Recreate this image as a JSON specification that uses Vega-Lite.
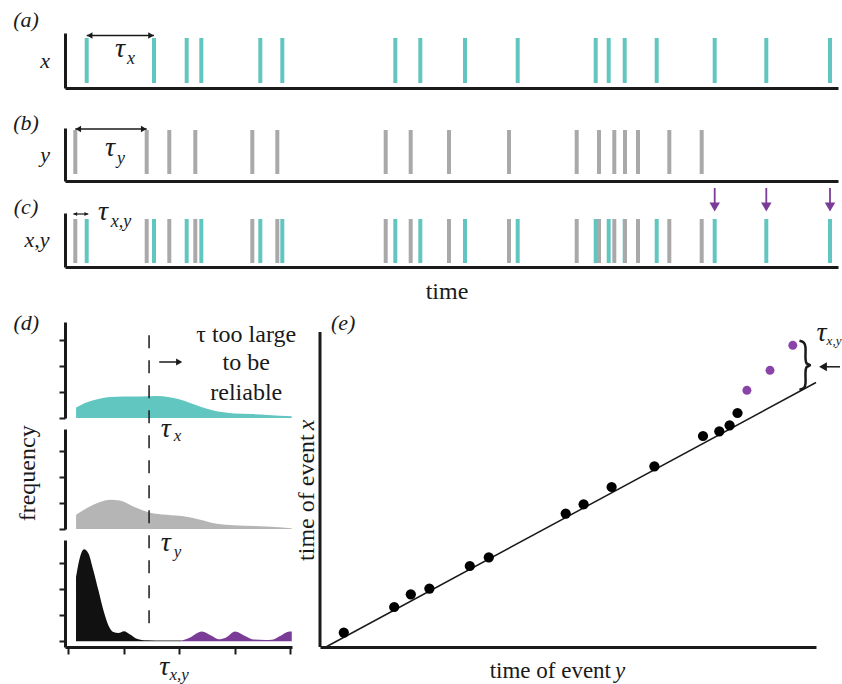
{
  "$schema": "https://vega.github.io/schema/vega-lite/v6.json",
  "background": "white",
  "autosize": {"type": "pad"},
  "padding": {"left": 13, "top": 9, "right": 0, "bottom": 0},
  "config": {
    "font": "Liberation Serif",
    "view": {"stroke": null},
    "axis": {"grid": false, "labels": false, "ticks": false, "domainWidth": 3, "domainColor": "#1a1a1a", "tickColor": "#1a1a1a", "tickWidth": 2},
    "text": {"font": "Liberation Serif", "color": "#1a1a1a"}
  },
  "datasets": {
    "events": [
      {"series": "x", "t": 21.7}, {"series": "x", "t": 89}, {"series": "x", "t": 121.7}, {"series": "x", "t": 136.3},
      {"series": "x", "t": 195.3}, {"series": "x", "t": 217.3}, {"series": "x", "t": 330.3}, {"series": "x", "t": 355.3},
      {"series": "x", "t": 400}, {"series": "x", "t": 452.7}, {"series": "x", "t": 530.7}, {"series": "x", "t": 543.7},
      {"series": "x", "t": 559.7}, {"series": "x", "t": 591.7}, {"series": "x", "t": 649.7}, {"series": "x", "t": 701.3},
      {"series": "x", "t": 765},
      {"series": "y", "t": 10.3}, {"series": "y", "t": 81.7}, {"series": "y", "t": 104.3}, {"series": "y", "t": 130.3},
      {"series": "y", "t": 187.3}, {"series": "y", "t": 212.3}, {"series": "y", "t": 320.7}, {"series": "y", "t": 345.7},
      {"series": "y", "t": 384}, {"series": "y", "t": 444}, {"series": "y", "t": 511.7}, {"series": "y", "t": 534},
      {"series": "y", "t": 549.3}, {"series": "y", "t": 560}, {"series": "y", "t": 573}, {"series": "y", "t": 604.3},
      {"series": "y", "t": 636.7}
    ],
    "densityX": [
      {"v": 0.14, "f": 0.40}, {"v": 0.30, "f": 0.58}, {"v": 0.45, "f": 0.68}, {"v": 0.60, "f": 0.76},
      {"v": 0.75, "f": 0.81}, {"v": 1.0, "f": 0.83}, {"v": 1.3, "f": 0.83}, {"v": 1.6, "f": 0.85},
      {"v": 1.8, "f": 0.81}, {"v": 2.0, "f": 0.72}, {"v": 2.2, "f": 0.58}, {"v": 2.4, "f": 0.42},
      {"v": 2.6, "f": 0.30}, {"v": 2.8, "f": 0.22}, {"v": 3.0, "f": 0.17}, {"v": 3.3, "f": 0.15},
      {"v": 3.6, "f": 0.12}, {"v": 4.03, "f": 0.07}
    ],
    "densityY": [
      {"v": 0.14, "f": 0.55}, {"v": 0.45, "f": 0.93}, {"v": 0.75, "f": 1.13}, {"v": 0.93, "f": 1.10},
      {"v": 1.17, "f": 0.87}, {"v": 1.46, "f": 0.64}, {"v": 1.78, "f": 0.55}, {"v": 2.08, "f": 0.49},
      {"v": 2.38, "f": 0.36}, {"v": 2.68, "f": 0.20}, {"v": 2.98, "f": 0.14}, {"v": 3.58, "f": 0.10},
      {"v": 4.03, "f": 0.03}
    ],
    "densityXY": [
      {"part": "reliable", "v": 0.139, "f": 2.48}, {"part": "reliable", "v": 0.211, "f": 3.25},
      {"part": "reliable", "v": 0.283, "f": 3.54}, {"part": "reliable", "v": 0.361, "f": 3.39},
      {"part": "reliable", "v": 0.451, "f": 2.74}, {"part": "reliable", "v": 0.542, "f": 1.97},
      {"part": "reliable", "v": 0.632, "f": 1.20}, {"part": "reliable", "v": 0.722, "f": 0.62},
      {"part": "reliable", "v": 0.812, "f": 0.36}, {"part": "reliable", "v": 0.903, "f": 0.32},
      {"part": "reliable", "v": 1.005, "f": 0.39}, {"part": "reliable", "v": 1.114, "f": 0.26},
      {"part": "reliable", "v": 1.235, "f": 0.10}, {"part": "reliable", "v": 1.415, "f": 0.04},
      {"part": "reliable", "v": 1.745, "f": 0.03}, {"part": "reliable", "v": 2.047, "f": 0.03},
      {"part": "unreliable", "v": 2.047, "f": 0.03}, {"part": "unreliable", "v": 2.197, "f": 0.15},
      {"part": "unreliable", "v": 2.408, "f": 0.38}, {"part": "unreliable", "v": 2.594, "f": 0.20},
      {"part": "unreliable", "v": 2.708, "f": 0.08}, {"part": "unreliable", "v": 2.847, "f": 0.15},
      {"part": "unreliable", "v": 3.009, "f": 0.38}, {"part": "unreliable", "v": 3.19, "f": 0.20},
      {"part": "unreliable", "v": 3.334, "f": 0.07}, {"part": "unreliable", "v": 3.551, "f": 0.05},
      {"part": "unreliable", "v": 3.677, "f": 0.06}, {"part": "unreliable", "v": 3.822, "f": 0.20},
      {"part": "unreliable", "v": 3.966, "f": 0.37}, {"part": "unreliable", "v": 4.032, "f": 0.38}
    ],
    "pairs": [
      {"group": "matched", "timeY": 23.8, "timeX": 14.4}, {"group": "matched", "timeY": 74.2, "timeX": 40},
      {"group": "matched", "timeY": 90.8, "timeX": 52.7}, {"group": "matched", "timeY": 109.4, "timeX": 58.4},
      {"group": "matched", "timeY": 149.8, "timeX": 81}, {"group": "matched", "timeY": 168.8, "timeX": 89.7},
      {"group": "matched", "timeY": 245.7, "timeX": 133.4}, {"group": "matched", "timeY": 263.6, "timeX": 142.7},
      {"group": "matched", "timeY": 291.6, "timeX": 160}, {"group": "matched", "timeY": 334.4, "timeX": 180.7},
      {"group": "matched", "timeY": 383, "timeX": 211}, {"group": "matched", "timeY": 399.3, "timeX": 215.7},
      {"group": "matched", "timeY": 409.6, "timeX": 221.7}, {"group": "matched", "timeY": 417.5, "timeX": 234},
      {"group": "late", "timeY": 426.9, "timeX": 256.7}, {"group": "late", "timeY": 450, "timeX": 276.7},
      {"group": "late", "timeY": 472.8, "timeX": 301.7}
    ]
  },
  "bounds": "flush",
  "spacing": 40,
  "vconcat": [
    {
      "width": 773, "height": 55,
      "layer": [
        {"data": {"name": "events"}, "transform": [{"filter": "datum.series === 'x'"}],
         "mark": {"type": "rule", "strokeWidth": 4, "color": "#62c6c0"},
         "encoding": {"x": {"field": "t", "type": "quantitative", "title": null, "scale": {"domain": [0, 773], "nice": false}},
                      "y": {"datum": 5, "type": "quantitative", "title": null, "scale": {"domain": [0, 55], "nice": false}},
                      "y2": {"datum": 50}}},
        {"data": {"values": [{"t1": 21.7, "t2": 89, "y": 52.5}]},
         "mark": {"type": "rule", "strokeWidth": 1.5, "color": "#1a1a1a"},
         "encoding": {"x": {"field": "t1", "type": "quantitative", "title": null}, "x2": {"field": "t2"},
                      "y": {"field": "y", "type": "quantitative", "title": null}}},
        {"data": {"values": [{"t1": 21.7, "y": 52.5}]},
         "mark": {"type": "point", "shape": "triangle-left", "filled": true, "opacity": 1, "size": 40, "color": "#1a1a1a", "xOffset": 3},
         "encoding": {"x": {"field": "t1", "type": "quantitative", "title": null}, "y": {"field": "y", "type": "quantitative", "title": null}}},
        {"data": {"values": [{"t2": 89, "y": 52.5}]},
         "mark": {"type": "point", "shape": "triangle-right", "filled": true, "opacity": 1, "size": 40, "color": "#1a1a1a", "xOffset": -3},
         "encoding": {"x": {"field": "t2", "type": "quantitative", "title": null}, "y": {"field": "y", "type": "quantitative", "title": null}}},
        {"data": {"values": [{"t": -39, "y": 68, "label": "(a)"}, {"t": -20, "y": 27, "label": "x"}]},
         "mark": {"type": "text", "font": "Liberation Serif", "fontSize": 22, "fontStyle": "italic"},
         "encoding": {"x": {"field": "t", "type": "quantitative", "title": null}, "y": {"field": "y", "type": "quantitative", "title": null}, "text": {"field": "label"}}},
        {"data": {"values": [{"t": 55, "y": 39, "label": "τ"}]},
         "mark": {"type": "text", "font": "Liberation Serif", "fontSize": 28, "fontStyle": "italic"},
         "encoding": {"x": {"field": "t", "type": "quantitative", "title": null}, "y": {"field": "y", "type": "quantitative", "title": null}, "text": {"field": "label"}}},
        {"data": {"values": [{"t": 66, "y": 29, "label": "x"}]},
         "mark": {"type": "text", "font": "Liberation Serif", "fontSize": 18, "fontStyle": "italic"},
         "encoding": {"x": {"field": "t", "type": "quantitative", "title": null}, "y": {"field": "y", "type": "quantitative", "title": null}, "text": {"field": "label"}}}
      ]
    },
    {
      "bounds": "flush",
      "spacing": 32,
      "vconcat": [
        {
          "width": 773, "height": 53,
          "layer": [
            {"data": {"name": "events"}, "transform": [{"filter": "datum.series === 'y'"}],
             "mark": {"type": "rule", "strokeWidth": 4, "color": "#a9a9a9"},
             "encoding": {"x": {"field": "t", "type": "quantitative", "title": null, "scale": {"domain": [0, 773], "nice": false}},
                          "y": {"datum": 7, "type": "quantitative", "title": null, "scale": {"domain": [0, 53], "nice": false}},
                          "y2": {"datum": 51}}},
            {"data": {"values": [{"t1": 10.3, "t2": 81.7, "y": 52}]},
             "mark": {"type": "rule", "strokeWidth": 1.5, "color": "#1a1a1a"},
             "encoding": {"x": {"field": "t1", "type": "quantitative", "title": null}, "x2": {"field": "t2"},
                          "y": {"field": "y", "type": "quantitative", "title": null}}},
            {"data": {"values": [{"t1": 10.3, "y": 52}]},
             "mark": {"type": "point", "shape": "triangle-left", "filled": true, "opacity": 1, "size": 40, "color": "#1a1a1a", "xOffset": 3},
             "encoding": {"x": {"field": "t1", "type": "quantitative", "title": null}, "y": {"field": "y", "type": "quantitative", "title": null}}},
            {"data": {"values": [{"t2": 81.7, "y": 52}]},
             "mark": {"type": "point", "shape": "triangle-right", "filled": true, "opacity": 1, "size": 40, "color": "#1a1a1a", "xOffset": -3},
             "encoding": {"x": {"field": "t2", "type": "quantitative", "title": null}, "y": {"field": "y", "type": "quantitative", "title": null}}},
            {"data": {"values": [{"t": -39, "y": 58, "label": "(b)"}, {"t": -20, "y": 26, "label": "y"}]},
             "mark": {"type": "text", "font": "Liberation Serif", "fontSize": 22, "fontStyle": "italic"},
             "encoding": {"x": {"field": "t", "type": "quantitative", "title": null}, "y": {"field": "y", "type": "quantitative", "title": null}, "text": {"field": "label"}}},
            {"data": {"values": [{"t": 45, "y": 33, "label": "τ"}]},
             "mark": {"type": "text", "font": "Liberation Serif", "fontSize": 28, "fontStyle": "italic"},
             "encoding": {"x": {"field": "t", "type": "quantitative", "title": null}, "y": {"field": "y", "type": "quantitative", "title": null}, "text": {"field": "label"}}},
            {"data": {"values": [{"t": 56, "y": 22, "label": "y"}]},
             "mark": {"type": "text", "font": "Liberation Serif", "fontSize": 18, "fontStyle": "italic"},
             "encoding": {"x": {"field": "t", "type": "quantitative", "title": null}, "y": {"field": "y", "type": "quantitative", "title": null}, "text": {"field": "label"}}}
          ]
        },
        {
          "bounds": "flush",
          "spacing": 55,
          "vconcat": [
            {
              "width": 773, "height": 54,
              "layer": [
                {"data": {"name": "events"},
                 "mark": {"type": "rule", "strokeWidth": 4},
                 "encoding": {"x": {"field": "t", "type": "quantitative", "title": null, "scale": {"domain": [0, 773], "nice": false}},
                              "y": {"datum": 4, "type": "quantitative", "title": null, "scale": {"domain": [0, 54], "nice": false}},
                              "y2": {"datum": 48},
                              "color": {"field": "series", "type": "nominal", "scale": {"domain": ["x", "y"], "range": ["#62c6c0", "#a9a9a9"]}, "legend": null}}},
                {"data": {"values": [{"t1": 8.3, "t2": 23.3, "y": 53}]},
                 "mark": {"type": "rule", "strokeWidth": 1.2, "color": "#1a1a1a"},
                 "encoding": {"x": {"field": "t1", "type": "quantitative", "title": null}, "x2": {"field": "t2"},
                              "y": {"field": "y", "type": "quantitative", "title": null}}},
                {"data": {"values": [{"t1": 8.3, "y": 53}]},
                 "mark": {"type": "point", "shape": "triangle-left", "filled": true, "opacity": 1, "size": 18, "color": "#1a1a1a", "xOffset": 2},
                 "encoding": {"x": {"field": "t1", "type": "quantitative", "title": null}, "y": {"field": "y", "type": "quantitative", "title": null}}},
                {"data": {"values": [{"t2": 23.3, "y": 53}]},
                 "mark": {"type": "point", "shape": "triangle-right", "filled": true, "opacity": 1, "size": 18, "color": "#1a1a1a", "xOffset": -2},
                 "encoding": {"x": {"field": "t2", "type": "quantitative", "title": null}, "y": {"field": "y", "type": "quantitative", "title": null}}},
                {"data": {"values": [{"t": 649.7, "y1": 79, "y2": 63}, {"t": 701.3, "y1": 79, "y2": 63}, {"t": 765, "y1": 79, "y2": 63}]},
                 "mark": {"type": "rule", "strokeWidth": 1.8, "color": "#7b3c98"},
                 "encoding": {"x": {"field": "t", "type": "quantitative", "title": null}, "y": {"field": "y1", "type": "quantitative", "title": null}, "y2": {"field": "y2"}}},
                {"data": {"values": [{"t": 649.7, "y": 60}, {"t": 701.3, "y": 60}, {"t": 765, "y": 60}]},
                 "mark": {"type": "point", "shape": "triangle-down", "filled": true, "opacity": 1, "size": 110, "color": "#7b3c98"},
                 "encoding": {"x": {"field": "t", "type": "quantitative", "title": null}, "y": {"field": "y", "type": "quantitative", "title": null}}},
                {"data": {"values": [{"t": -39, "y": 60, "label": "(c)"}, {"t": -28, "y": 27, "label": "x,y"}]},
                 "mark": {"type": "text", "font": "Liberation Serif", "fontSize": 22, "fontStyle": "italic"},
                 "encoding": {"x": {"field": "t", "type": "quantitative", "title": null}, "y": {"field": "y", "type": "quantitative", "title": null}, "text": {"field": "label"}}},
                {"data": {"values": [{"t": 38, "y": 55, "label": "τ"}]},
                 "mark": {"type": "text", "font": "Liberation Serif", "fontSize": 28, "fontStyle": "italic"},
                 "encoding": {"x": {"field": "t", "type": "quantitative", "title": null}, "y": {"field": "y", "type": "quantitative", "title": null}, "text": {"field": "label"}}},
                {"data": {"values": [{"t": 56, "y": 45, "label": "x,y"}]},
                 "mark": {"type": "text", "font": "Liberation Serif", "fontSize": 18, "fontStyle": "italic"},
                 "encoding": {"x": {"field": "t", "type": "quantitative", "title": null}, "y": {"field": "y", "type": "quantitative", "title": null}, "text": {"field": "label"}}},
                {"data": {"values": [{"t": 382, "y": -25, "label": "time"}]},
                 "mark": {"type": "text", "font": "Liberation Serif", "fontSize": 24},
                 "encoding": {"x": {"field": "t", "type": "quantitative", "title": null}, "y": {"field": "y", "type": "quantitative", "title": null}, "text": {"field": "label"}}}
              ]
            },
            {
              "bounds": "flush",
              "spacing": 28,
              "hconcat": [
                {
                  "width": 227, "height": 325,
                  "resolve": {"scale": {"y": "independent"}, "axis": {"y": "independent"}},
                  "layer": [
                    {"data": {"name": "densityX"},
                     "mark": {"type": "area", "interpolate": "monotone", "color": "#62c6c0", "opacity": 1},
                     "encoding": {"x": {"field": "v", "type": "quantitative", "title": null, "scale": {"domain": [-0.06, 4.036], "nice": false}, "axis": {"ticks": true, "tickSize": 7, "values": [0, 1, 2, 3, 4]}},
                                  "y": {"field": "f", "type": "quantitative", "title": null, "stack": null, "scale": {"domain": [0, 3.7], "range": [96, 0], "nice": false}, "axis": {"orient": "left", "ticks": true, "tickSize": 6, "values": [0, 1, 2, 3]}},
                                  "y2": {"datum": 0}}},
                    {"data": {"name": "densityY"},
                     "mark": {"type": "area", "interpolate": "monotone", "color": "#b5b5b5", "opacity": 1},
                     "encoding": {"x": {"field": "v", "type": "quantitative", "title": null},
                                  "y": {"field": "f", "type": "quantitative", "title": null, "stack": null, "scale": {"domain": [0, 3.85], "range": [207, 107], "nice": false}, "axis": {"orient": "left", "ticks": true, "tickSize": 6, "values": [0, 1, 2, 3]}},
                                  "y2": {"datum": 0}}},
                    {"data": {"name": "densityXY"}, "transform": [{"filter": "datum.part === 'reliable'"}],
                     "mark": {"type": "area", "interpolate": "monotone", "color": "#111111", "opacity": 1},
                     "encoding": {"x": {"field": "v", "type": "quantitative", "title": null},
                                  "y": {"field": "f", "type": "quantitative", "title": null, "stack": null, "scale": {"domain": [-0.22, 3.9], "range": [325, 218], "nice": false}, "axis": {"orient": "left", "ticks": true, "tickSize": 6, "values": [0, 1, 2, 3]}},
                                  "y2": {"datum": 0}}},
                    {"data": {"name": "densityXY"}, "transform": [{"filter": "datum.part === 'unreliable'"}],
                     "mark": {"type": "area", "interpolate": "monotone", "color": "#7b3c98", "opacity": 1},
                     "encoding": {"x": {"field": "v", "type": "quantitative", "title": null},
                                  "y": {"field": "f", "type": "quantitative", "title": null, "stack": null, "scale": {"domain": [-0.22, 3.9], "range": [325, 218], "nice": false}, "axis": null},
                                  "y2": {"datum": 0}}},
                    {"data": {"values": [{"v": 1.457, "top": 311.7, "bottom": 21.7}]},
                     "mark": {"type": "rule", "strokeDash": [13, 12], "strokeWidth": 1.5, "color": "#1a1a1a"},
                     "encoding": {"x": {"field": "v", "type": "quantitative", "title": null}, "y": {"field": "top", "type": "quantitative", "title": null, "scale": {"domain": [0, 325], "nice": false}, "axis": null}, "y2": {"field": "bottom"}}},
                    {"data": {"values": [{"v": 3.21, "fy": 311.7, "label": "τ too large"}, {"v": 3.21, "fy": 283.7, "label": "to be"}, {"v": 3.21, "fy": 254, "label": "reliable"}]},
                     "mark": {"type": "text", "font": "Liberation Serif", "fontSize": 24},
                     "encoding": {"x": {"field": "v", "type": "quantitative", "title": null}, "y": {"field": "fy", "type": "quantitative", "title": null, "scale": {"domain": [0, 325], "nice": false}, "axis": null}, "text": {"field": "label"}}},
                    {"data": {"values": [{"v1": 1.64, "v2": 2.0, "fy": 285}]},
                     "mark": {"type": "rule", "strokeWidth": 1.5, "color": "#1a1a1a"},
                     "encoding": {"x": {"field": "v1", "type": "quantitative", "title": null}, "x2": {"field": "v2"}, "y": {"field": "fy", "type": "quantitative", "title": null, "scale": {"domain": [0, 325], "nice": false}, "axis": null}}},
                    {"data": {"values": [{"v2": 2.0, "fy": 285}]},
                     "mark": {"type": "point", "shape": "triangle-right", "filled": true, "opacity": 1, "size": 50, "color": "#1a1a1a"},
                     "encoding": {"x": {"field": "v2", "type": "quantitative", "title": null}, "y": {"field": "fy", "type": "quantitative", "title": null, "scale": {"domain": [0, 325], "nice": false}, "axis": null}}},
                    {"data": {"values": [{"v": -0.76, "fy": 323.7, "label": "(d)"}]},
                     "mark": {"type": "text", "font": "Liberation Serif", "fontSize": 22, "fontStyle": "italic"},
                     "encoding": {"x": {"field": "v", "type": "quantitative", "title": null}, "y": {"field": "fy", "type": "quantitative", "title": null, "scale": {"domain": [0, 325], "nice": false}, "axis": null}, "text": {"field": "label"}}},
                    {"data": {"values": [{"v": -0.73, "fy": 173.7, "label": "frequency"}]},
                     "mark": {"type": "text", "font": "Liberation Serif", "fontSize": 24, "angle": 270},
                     "encoding": {"x": {"field": "v", "type": "quantitative", "title": null}, "y": {"field": "fy", "type": "quantitative", "title": null, "scale": {"domain": [0, 325], "nice": false}, "axis": null}, "text": {"field": "label"}}},
                    {"data": {"values": [{"v": 1.76, "fy": 217.7, "label": "τ"}, {"v": 1.76, "fy": 103.7, "label": "τ"}, {"v": 1.73, "fy": -20.3, "label": "τ"}]},
                     "mark": {"type": "text", "font": "Liberation Serif", "fontSize": 28, "fontStyle": "italic"},
                     "encoding": {"x": {"field": "v", "type": "quantitative", "title": null}, "y": {"field": "fy", "type": "quantitative", "title": null, "scale": {"domain": [0, 325], "nice": false}, "axis": null}, "text": {"field": "label"}}},
                    {"data": {"values": [{"v": 1.97, "fy": 211.2, "label": "x"}, {"v": 1.97, "fy": 94.7, "label": "y"}, {"v": 2.0, "fy": -28.3, "label": "x,y"}]},
                     "mark": {"type": "text", "font": "Liberation Serif", "fontSize": 17, "fontStyle": "italic"},
                     "encoding": {"x": {"field": "v", "type": "quantitative", "title": null}, "y": {"field": "fy", "type": "quantitative", "title": null, "scale": {"domain": [0, 325], "nice": false}, "axis": null}, "text": {"field": "label"}}}
                  ]
                },
                {
                  "width": 496, "height": 325,
                  "layer": [
                    {"data": {"values": [{"x": 0, "y": 0, "y2": 315}]},
                     "mark": {"type": "rule", "strokeWidth": 3, "color": "#1a1a1a"},
                     "encoding": {"x": {"field": "x", "type": "quantitative", "title": null, "scale": {"domain": [0, 496], "nice": false}},
                                  "y": {"field": "y", "type": "quantitative", "title": null, "scale": {"domain": [0, 325], "nice": false}, "axis": {"domain": false}},
                                  "y2": {"field": "y2"}}},
                    {"data": {"values": [{"x": 5.9, "y": 0}, {"x": 496, "y": 264.5}]},
                     "mark": {"type": "line", "strokeWidth": 1.5, "color": "#1a1a1a"},
                     "encoding": {"x": {"field": "x", "type": "quantitative", "title": null}, "y": {"field": "y", "type": "quantitative", "title": null}}},
                    {"data": {"name": "pairs"}, "transform": [{"filter": "datum.group === 'matched'"}],
                     "mark": {"type": "circle", "size": 105, "opacity": 1, "color": "#000000"},
                     "encoding": {"x": {"field": "timeY", "type": "quantitative", "title": null}, "y": {"field": "timeX", "type": "quantitative", "title": null}}},
                    {"data": {"name": "pairs"}, "transform": [{"filter": "datum.group === 'late'"}],
                     "mark": {"type": "circle", "size": 80, "opacity": 1, "color": "#8a44a8"},
                     "encoding": {"x": {"field": "timeY", "type": "quantitative", "title": null}, "y": {"field": "timeX", "type": "quantitative", "title": null}}},
                    {"data": {"values": [
                       {"i": 0, "x": 479.5, "y": 306.2}, {"i": 1, "x": 484, "y": 304.2}, {"i": 2, "x": 485.5, "y": 299.7},
                       {"i": 3, "x": 485.5, "y": 288.7}, {"i": 4, "x": 486.5, "y": 283.7}, {"i": 5, "x": 490, "y": 281.7},
                       {"i": 6, "x": 486.5, "y": 279.7}, {"i": 7, "x": 485.5, "y": 274.7}, {"i": 8, "x": 485.5, "y": 263.7},
                       {"i": 9, "x": 484, "y": 259.2}, {"i": 10, "x": 479.5, "y": 257.2}]},
                     "mark": {"type": "line", "interpolate": "cardinal", "strokeWidth": 2.5, "color": "#1a1a1a"},
                     "encoding": {"x": {"field": "x", "type": "quantitative", "title": null}, "y": {"field": "y", "type": "quantitative", "title": null}, "order": {"field": "i"}}},
                    {"data": {"values": [{"x1": 503, "x2": 520, "y": 280.2}]},
                     "mark": {"type": "rule", "strokeWidth": 1.5, "color": "#1a1a1a"},
                     "encoding": {"x": {"field": "x1", "type": "quantitative", "title": null}, "x2": {"field": "x2"}, "y": {"field": "y", "type": "quantitative", "title": null}}},
                    {"data": {"values": [{"x": 503, "y": 280.2}]},
                     "mark": {"type": "point", "shape": "triangle-left", "filled": true, "opacity": 1, "size": 80, "color": "#1a1a1a"},
                     "encoding": {"x": {"field": "x", "type": "quantitative", "title": null}, "y": {"field": "y", "type": "quantitative", "title": null}}},
                    {"data": {"values": [{"x": 23.1, "y": 323.7, "label": "(e)"}]},
                     "mark": {"type": "text", "font": "Liberation Serif", "fontSize": 22, "fontStyle": "italic"},
                     "encoding": {"x": {"field": "x", "type": "quantitative", "title": null}, "y": {"field": "y", "type": "quantitative", "title": null}, "text": {"field": "label"}}},
                    {"data": {"values": [{"x": 501.5, "y": 313.7, "label": "τ"}]},
                     "mark": {"type": "text", "font": "Liberation Serif", "fontSize": 28, "fontStyle": "italic"},
                     "encoding": {"x": {"field": "x", "type": "quantitative", "title": null}, "y": {"field": "y", "type": "quantitative", "title": null}, "text": {"field": "label"}}},
                    {"data": {"values": [{"x": 514, "y": 305.7, "label": "x,y"}]},
                     "mark": {"type": "text", "font": "Liberation Serif", "fontSize": 13, "fontStyle": "italic"},
                     "encoding": {"x": {"field": "x", "type": "quantitative", "title": null}, "y": {"field": "y", "type": "quantitative", "title": null}, "text": {"field": "label"}}},
                    {"data": {"values": [{"x": 291, "y": -24.3, "label": "time of event"}]},
                     "mark": {"type": "text", "font": "Liberation Serif", "fontSize": 23, "align": "right"},
                     "encoding": {"x": {"field": "x", "type": "quantitative", "title": null}, "y": {"field": "y", "type": "quantitative", "title": null}, "text": {"field": "label"}}},
                    {"data": {"values": [{"x": 295, "y": -24.3, "label": "y"}]},
                     "mark": {"type": "text", "font": "Liberation Serif", "fontSize": 23, "align": "left", "fontStyle": "italic"},
                     "encoding": {"x": {"field": "x", "type": "quantitative", "title": null}, "y": {"field": "y", "type": "quantitative", "title": null}, "text": {"field": "label"}}},
                    {"data": {"values": [{"x": -13, "y": 212.7, "label": "time of event"}]},
                     "mark": {"type": "text", "font": "Liberation Serif", "fontSize": 24, "align": "right", "angle": 270},
                     "encoding": {"x": {"field": "x", "type": "quantitative", "title": null}, "y": {"field": "y", "type": "quantitative", "title": null}, "text": {"field": "label"}}},
                    {"data": {"values": [{"x": -13, "y": 216.7, "label": "x"}]},
                     "mark": {"type": "text", "font": "Liberation Serif", "fontSize": 24, "align": "left", "angle": 270, "fontStyle": "italic"},
                     "encoding": {"x": {"field": "x", "type": "quantitative", "title": null}, "y": {"field": "y", "type": "quantitative", "title": null}, "text": {"field": "label"}}}
                  ]
                }
              ]
            }
          ]
        }
      ]
    }
  ]
}
